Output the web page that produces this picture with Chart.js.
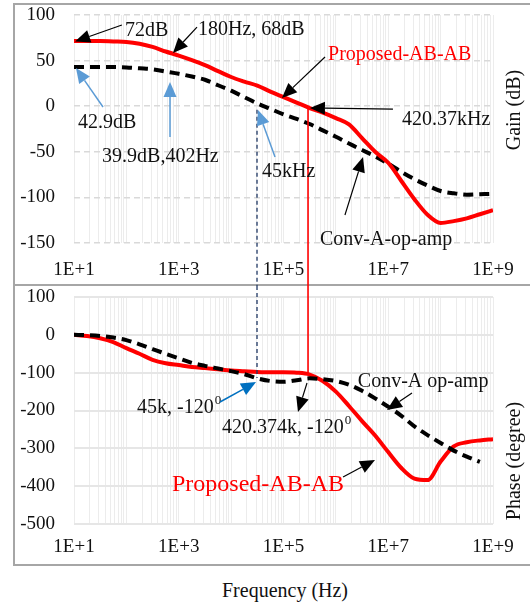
<!DOCTYPE html>
<html>
<head>
<meta charset="utf-8">
<script src="https://cdn.jsdelivr.net/npm/chart.js@4.4.0/dist/chart.umd.min.js"></script>
<style>
  body { margin: 0; background: #fff; }
  #page { position: relative; width: 530px; height: 603px; overflow: hidden; font-family: "Liberation Serif", "Times New Roman", Times, "DejaVu Serif", serif; }
  .rule { position: absolute; background: #a6a6a6; }
  canvas { position: absolute; }
  #xtitle { position: absolute; left: 185px; width: 200px; top: 578px; text-align: center; font-size: 20px; line-height: 24px; color: #111; }
</style>
</head>
<body>
<div id="page">
  <div class="rule" style="left:13px;top:3px;width:517px;height:2px"></div>
  <div class="rule" style="left:13px;top:3px;width:2px;height:563px"></div>
  <div class="rule" style="left:13px;top:564px;width:517px;height:2px"></div>
  <canvas id="gainChart" width="515" height="281" style="left:15px;top:5px"></canvas>
  <canvas id="phaseChart" width="515" height="278" style="left:15px;top:286px"></canvas>
  <div id="xtitle">Frequency (Hz)</div>
</div>
<script>
// --- DATA ---
// frequency points in Hz (quarter-decade steps)
const freqs = [10, 17.8, 31.6, 56.2, 100, 178, 316, 562, 1000, 1780, 3160, 5620,
  1e4, 1.78e4, 3.16e4, 5.62e4, 1e5, 1.78e5, 3.16e5, 5.62e5, 1e6, 1.78e6, 3.16e6, 5.62e6,
  1e7, 1.78e7, 3.16e7, 5.62e7, 1e8, 1.78e8, 3.16e8, 5.62e8, 1e9];

// gain (dB)
const gainProposed = [71.5, 71.5, 71.5, 71, 70.5, 68.5, 65, 60, 55.5, 50.5, 45, 38.5,
  32, 27, 22.5, 16, 10, 4, -2, -7, -13, -20, -35, -50,
  -62, -82, -102, -119, -128, -126, -123, -118.5, -114];
const gainConv = [43, 43, 43, 43, 42.5, 41.5, 40.5, 38, 35.5, 32.5, 29, 23,
  17, 10, 3, -3, -9, -14, -19.5, -26.5, -33.5, -41, -48, -55,
  -63, -72, -80, -87, -93, -95.5, -97, -96.5, -96];

// phase (degree)
const phaseProposed = [0, -3, -9, -19, -35, -50, -66, -75, -80, -85, -88, -91,
  -94, -96, -98, -99, -99, -100, -105, -122, -150, -188, -228, -266,
  -310, -352, -380, -384, -335, -295, -284, -279, -276];
const phaseConv = [0, -1, -3, -7, -14, -25, -38, -50, -62, -74, -82, -89,
  -96, -104, -115, -122, -124, -120, -115, -117, -122, -132, -148, -168,
  -190, -214, -242, -265, -286, -306, -322, -336, null];

// axis ticks
const xTickValues = [10, 1e3, 1e5, 1e7, 1e9];
const xTickLabels = ["1E+1", "1E+3", "1E+5", "1E+7", "1E+9"];
const gainTicks = [100, 50, 0, -50, -100, -150];
const phaseTicks = [100, 0, -100, -200, -300, -400, -500];

// marker lines (frequency, where they start on gain, where they end on phase)
const markerFreqs = [3.12e4, 2.94e5];
const markerGain = [-4, -2];
const markerPhase = [-114, -101];

// annotations: text, text anchor [freq, value], arrow from, arrow tip
const gainNotes = [
  { text: "72dB", at: [94, 82.5], from: [82, 89], to: [10.5, 71], color: "#000" },
  { text: "180Hz, 68dB", at: [2335, 83.5], from: [2230, 86.8], to: [776, 58.3], color: "#000" },
  { text: "Proposed-AB-AB", at: [7.08e5, 56.1], from: [6.2e5, 54], to: [9.35e4, 9], color: "#ff0000", textColor: "#ff0000", arrowColor: "#000" },
  { text: "420.37kHz", at: [1.83e7, -15.1], from: [1.23e7, -3.1], to: [3.2e5, -2], color: "#000" },
  { text: "Conv-A-op-amp", at: [4.98e5, -146.7], from: [1.49e6, -119.3], to: [3.3e6, -55.7], color: "#000" },
  { text: "42.9dB", at: [11.9, -18.4], from: [35.8, -0.9], to: [10.9, 41.9], color: "#5b9bd5" },
  { text: "39.9dB,402Hz", at: [34.3, -55.7], from: [681, -33.8], to: [681, 26.5], color: "#5b9bd5" },
  { text: "45kHz", at: [3.88e4, -72.1], from: [6.89e4, -55.7], to: [3.26e4, -4.2], color: "#5b9bd5" },
];
const phaseNotes = [
  { text: "45k, -120", sup: "0", at: [160, -193], from: [6130, -177.6], to: [2.99e4, -124.7], color: "#0070c0" },
  { text: "420.374k, -120", sup: "0", at: [6700, -246], from: [2.81e5, -127.3], to: [1.89e5, -204], color: "#000" },
  { text: "Conv-A op-amp", at: [2.63e6, -124.7], from: [2.84e7, -153.8], to: [9.46e6, -198.7], color: "#000" },
  { text: "Proposed-AB-AB", at: [743, -397], from: [1.37e6, -375.8], to: [5.58e6, -330.9], color: "#000", textColor: "#ff0000", size: 24 },
];

const FONT = '"Liberation Serif", "Times New Roman", Times, "DejaVu Serif", serif';

// gridlines at 1..9 x 10^n
function logGridValues() {
  const vals = [];
  for (let e = 1; e < 9; e++) {
    for (let m = 1; m < 10; m++) vals.push(m * Math.pow(10, e));
  }
  vals.push(1e9);
  return vals;
}

function xLabel(v) {
  const i = xTickValues.indexOf(v);
  return i >= 0 ? xTickLabels[i] : "";
}

function toPx(chart, f, v) {
  return [chart.scales.x.getPixelForValue(f), chart.scales.y.getPixelForValue(v)];
}

function drawArrow(ctx, a, b, color, width) {
  const ang = Math.atan2(b[1] - a[1], b[0] - a[0]);
  const len = 15, half = 6.5;
  const bx = b[0] - Math.cos(ang) * len;
  const by = b[1] - Math.sin(ang) * len;
  ctx.save();
  ctx.strokeStyle = color;
  ctx.fillStyle = color;
  ctx.lineWidth = width;
  ctx.beginPath();
  ctx.moveTo(a[0], a[1]);
  ctx.lineTo(bx, by);
  ctx.stroke();
  ctx.beginPath();
  ctx.moveTo(b[0], b[1]);
  ctx.lineTo(bx + Math.sin(ang) * half, by - Math.cos(ang) * half);
  ctx.lineTo(bx - Math.sin(ang) * half, by + Math.cos(ang) * half);
  ctx.closePath();
  ctx.fill();
  ctx.restore();
}

function drawNote(ctx, chart, n) {
  const p = toPx(chart, n.at[0], n.at[1]);
  const size = n.size || 20;
  ctx.save();
  ctx.font = size + "px " + FONT;
  ctx.fillStyle = n.textColor || "#111";
  ctx.textBaseline = "middle";
  ctx.textAlign = "left";
  ctx.fillText(n.text, p[0], p[1]);
  if (n.sup) {
    const w = ctx.measureText(n.text).width;
    ctx.font = "13px " + FONT;
    ctx.fillText(n.sup, p[0] + w + 1, p[1] - 7);
  }
  ctx.restore();
  const arrowColor = n.arrowColor || n.color;
  const blue = arrowColor !== "#000";
  drawArrow(ctx, toPx(chart, n.from[0], n.from[1]), toPx(chart, n.to[0], n.to[1]), arrowColor, blue ? 1.5 : 1.2);
}

function drawMarkers(chart, isTop) {
  const ctx = chart.ctx;
  const styles = [
    { color: "#203864", dash: [4, 3], width: 1.3 },
    { color: "#ff0000", dash: [], width: 1.6 },
  ];
  markerFreqs.forEach((f, i) => {
    const x = chart.scales.x.getPixelForValue(f);
    const y = isTop ? chart.scales.y.getPixelForValue(markerGain[i]) : chart.scales.y.getPixelForValue(markerPhase[i]);
    ctx.save();
    ctx.strokeStyle = styles[i].color;
    ctx.lineWidth = styles[i].width;
    ctx.setLineDash(styles[i].dash);
    ctx.beginPath();
    if (isTop) {
      ctx.moveTo(x, y);
      ctx.lineTo(x, chart.height);
    } else {
      ctx.moveTo(x, 0);
      ctx.lineTo(x, y);
    }
    ctx.stroke();
    ctx.restore();
  });
}

function notesPlugin(notes, isTop, title, titleDy) {
  return {
    id: "notes",
    beforeDraw(chart) {
      if (isTop) {
        // separator between the two panels
        chart.ctx.save();
        chart.ctx.fillStyle = "#a6a6a6";
        chart.ctx.fillRect(0, chart.height - 2, chart.width, 2);
        chart.ctx.restore();
      }
    },
    afterDatasetsDraw(chart) {
      const ctx = chart.ctx;
      drawMarkers(chart, isTop);
      notes.forEach((n) => drawNote(ctx, chart, n));
      const a = chart.chartArea;
      ctx.save();
      ctx.translate(a.right + 22, a.top + titleDy);
      ctx.rotate(-Math.PI / 2);
      ctx.font = "20px " + FONT;
      ctx.fillStyle = "#111";
      ctx.textAlign = "center";
      ctx.textBaseline = "middle";
      ctx.fillText(title, 0, 0);
      ctx.restore();
    },
  };
}

function makeChart(id, opts) {
  const ds = opts.series.map((s) => ({
    data: freqs.map((f, i) => ({ x: f, y: s.values[i] })),
    borderColor: s.color,
    borderWidth: 4,
    borderDash: s.dash,
    borderCapStyle: "butt",
    pointRadius: 0,
    cubicInterpolationMode: "monotone",
    fill: false,
  }));
  return new Chart(document.getElementById(id), {
    type: "line",
    data: { datasets: ds },
    options: {
      responsive: false,
      animation: false,
      layout: { padding: { left: 0, right: 37, top: opts.top, bottom: 0 } },
      plugins: { legend: { display: false }, tooltip: { enabled: false } },
      scales: {
        x: {
          type: "logarithmic",
          min: 10,
          max: 1e9,
          afterBuildTicks: (s) => {
            s.ticks = logGridValues().map((v) => ({ value: v }));
          },
          afterFit: (s) => {
            s.height = opts.xHeight;
            s.paddingLeft = 0;
            s.paddingRight = 0;
          },
          ticks: {
            autoSkip: false,
            maxRotation: 0,
            padding: opts.xPad,
            color: "#111",
            font: { family: FONT, size: 19 },
            callback: (v) => xLabel(v),
          },
          grid: { color: "#ececec", lineWidth: 1, drawTicks: false },
          border: { display: false },
        },
        y: {
          min: opts.yTicks[opts.yTicks.length - 1],
          max: opts.yTicks[0],
          afterBuildTicks: (s) => {
            s.ticks = opts.yTicks.map((v) => ({ value: v }));
          },
          afterFit: (s) => {
            s.width = 59;
            s.paddingTop = 0;
            s.paddingBottom = 0;
          },
          ticks: { padding: 19, color: "#111", font: { family: FONT, size: 19 } },
          grid: { color: opts.yGridColor, lineWidth: opts.yGridWidth, drawTicks: false },
          border: { display: false, dash: opts.yDash },
        },
      },
    },
    plugins: [notesPlugin(opts.notes, opts.isTop, opts.title, opts.titleDy)],
  });
}

makeChart("gainChart", {
  series: [
    { values: gainProposed, color: "#ff0000", dash: [] },
    { values: gainConv, color: "#000", dash: [10, 6] },
  ],
  yTicks: gainTicks,
  top: 10,
  xHeight: 43,
  xPad: 16,
  yGridColor: "#d9d9d9",
  yGridWidth: 1.5,
  yDash: [6, 4],
  notes: gainNotes,
  isTop: true,
  title: "Gain (dB)",
  titleDy: 95,
});

makeChart("phaseChart", {
  series: [
    { values: phaseConv, color: "#000", dash: [10, 6] },
    { values: phaseProposed, color: "#ff0000", dash: [] },
  ],
  yTicks: phaseTicks,
  top: 11,
  xHeight: 40,
  xPad: 12,
  yGridColor: "#e6e6e6",
  yGridWidth: 2,
  yDash: [],
  notes: phaseNotes,
  isTop: false,
  title: "Phase (degree)",
  titleDy: 164,
});
</script>
</body>
</html>
